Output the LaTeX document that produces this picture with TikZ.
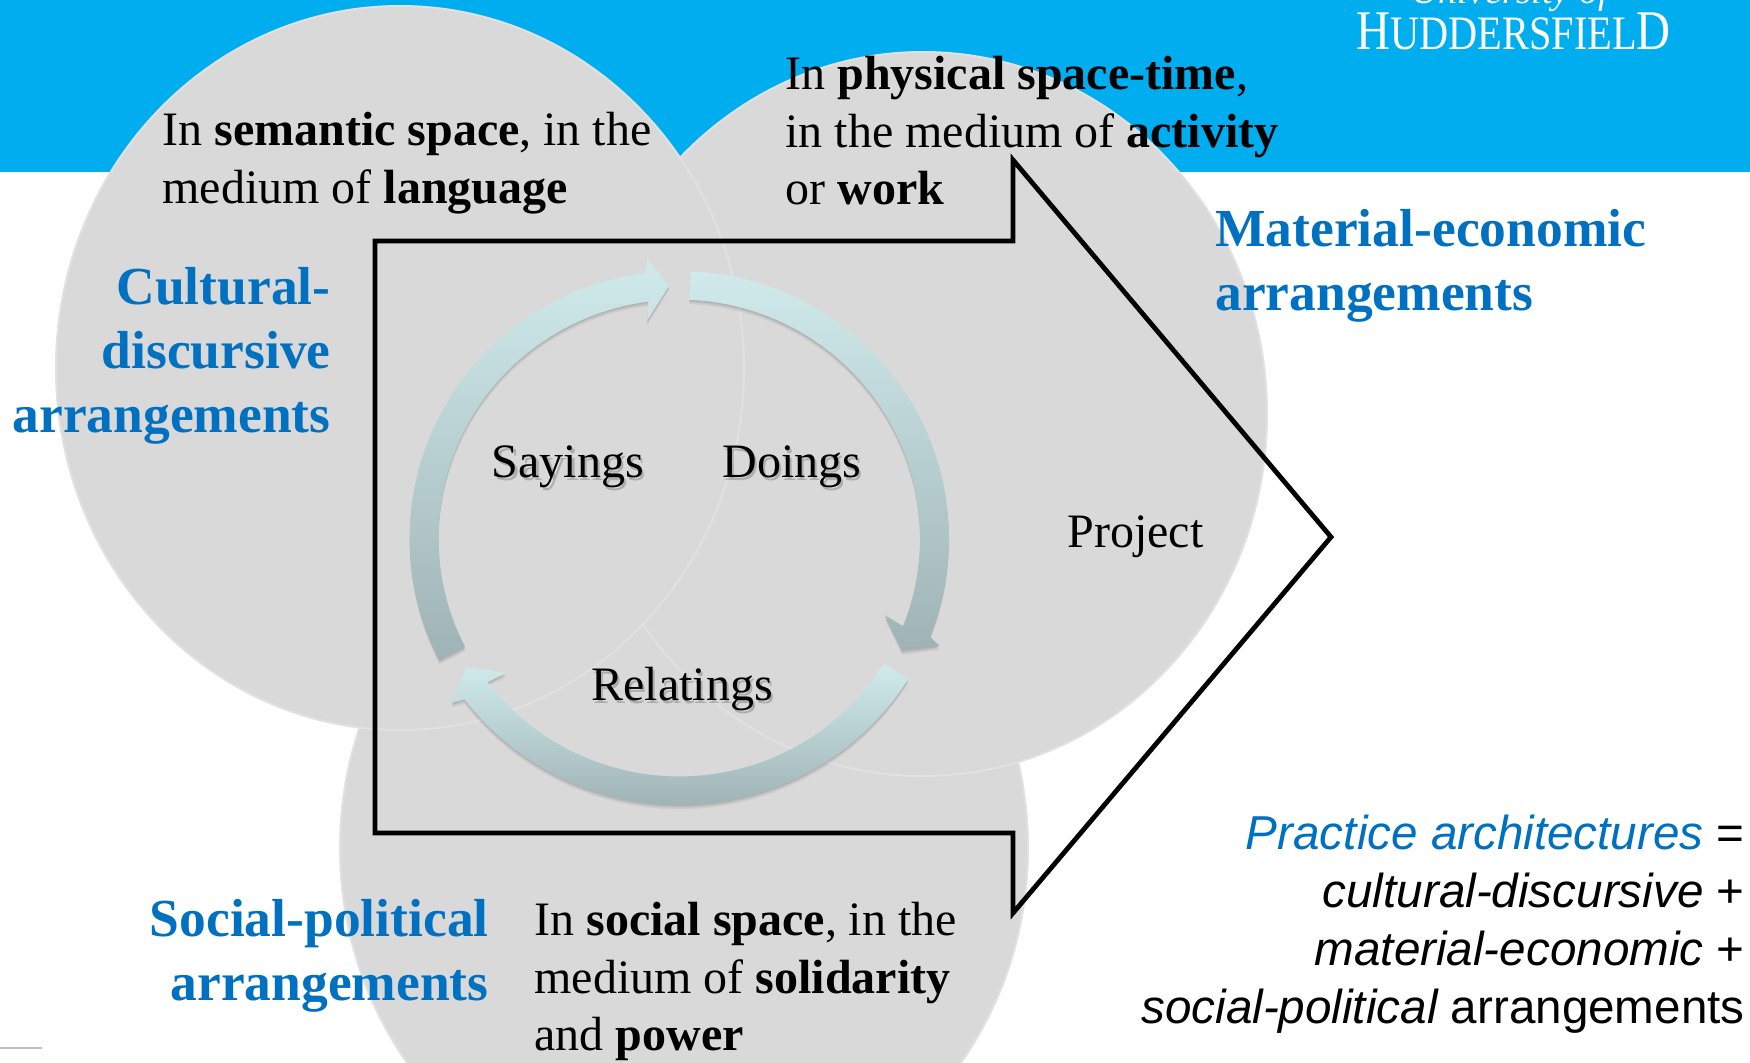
\documentclass[tikz,border=0pt]{standalone}
\usepackage{fontspec}
\setmainfont{Liberation Serif}
\setsansfont{Liberation Sans}
\definecolor{bandblue}{HTML}{00AEEF}
\definecolor{disc}{HTML}{D9D9D9}
\definecolor{discedge}{HTML}{E1E1E1}
\definecolor{headblue}{HTML}{0070C0}
\definecolor{ringtop}{HTML}{D0EAEC}
\definecolor{ringbot}{HTML}{9FB3B6}
\newcommand{\ringarrow}[1]{%
  \fill[black,opacity=.05,yshift=-2.2pt] #1;
  \fill[black,opacity=.06,yshift=-1.4pt] #1;
  \fill[black,opacity=.07,yshift=-.7pt] #1;
  \shade[top color=ringtop,bottom color=ringbot] #1;
}
\tikzset{
  discshape/.style={fill=disc,draw=discedge,line width=1pt},
  bodytext/.style={inner sep=0pt,anchor=base west,align=left,font=\fontsize{24}{28.7}\selectfont},
  headtext/.style={inner sep=0pt,align=left,text=headblue,font=\fontsize{26.75}{32}\selectfont\bfseries},
  cycletext/.style={inner sep=0pt,anchor=base west,font=\fontsize{24}{28}\selectfont},
  cycleshadow/.style={cycletext,text=black,text opacity=.2},
  sumtext/.style={inner sep=0pt,align=right,anchor=base east,font=\fontsize{23.8}{29}\selectfont\sffamily},
}
\begin{document}
\begin{tikzpicture}[x=0.5pt,y=-0.5pt]
\useasboundingbox (0,0) rectangle (1750,1062);
\clip (0,0) rectangle (1750,1062);
\fill[white] (0,0) rectangle (1750,1062);
\fill[bandblue] (0,0) rectangle (1750,172);
\draw[line width=.75pt,color=black!25] (0,1048) -- (42,1048);
% three discs
\path[discshape] (684,848) circle[x radius=172pt,y radius=181pt];
\path[discshape] (923,414) circle[x radius=172pt,y radius=181pt];
\path[discshape] (400,368) circle[x radius=172pt,y radius=181pt];
% large arrow
\draw[line width=2.4pt,miter limit=10] (375,241) -- (1013,241) -- (1013,160) -- (1331,537) -- (1013,913) -- (1013,833) -- (375,833) -- cycle;
% cycle of three arrows
\begin{scope}[shift={(679.3,538)},x=1pt,y=1pt,yscale=.99]
\ringarrow{(87.6:134.8) arc[start angle=87.6,end angle=-21.7,radius=134.8] -- (-22.7:141) -- (-27:125) -- (-20.8:110) -- (-21.7:120.4) arc[start angle=-21.7,end angle=87.6,radius=120.4] -- cycle}
\ringarrow{(-31.9:134.8) arc[start angle=-31.9,end angle=-142.8,radius=134.8] -- (-143.8:141) -- (-148.5:125) -- (-141.8:110) -- (-142.8:120.4) arc[start angle=-142.8,end angle=-31.9,radius=120.4] -- cycle}
\ringarrow{(207.2:134.8) arc[start angle=207.2,end angle=97.4,radius=134.8] -- (96.5:142) -- (92.3:127.5) -- (98.3:111) -- (97.4:120.4) arc[start angle=97.4,end angle=207.2,radius=120.4] -- cycle}
\end{scope}
% logo
\node[inner sep=0pt,anchor=base,text=white,font=\fontsize{19}{22}\selectfont\itshape] (univ) at (1510,3) {University of};
\node[inner sep=0pt,anchor=base west,text=white,font=\fontsize{24}{26}\selectfont,xscale=.84,transform shape] (hudd) at (1356,49) {{\fontsize{28}{26}\selectfont H}UDDERSFIEL{\fontsize{28}{26}\selectfont D}};
% explanatory texts
\node[bodytext] (semantic) at (162,203) {In \textbf{semantic space}, in the\\medium of \textbf{language}};
\node[bodytext] (physical) at (785,204.5) {In \textbf{physical space-time},\\in the medium of \textbf{activity}\\or \textbf{work}};
\node[bodytext] (social) at (534,1050.5) {In \textbf{social space}, in the\\medium of \textbf{solidarity}\\and \textbf{power}};
% arrangement headings
\node[headtext,align=right,anchor=base east] (cultural) at (331,432) {Cultural-\\discursive\\arrangements};
\node[headtext,anchor=base west] (material) at (1215,310) {Material-economic\\arrangements};
\node[headtext,align=right,anchor=base east] (socpol) at (489,1000) {Social-political\\arrangements};
% labels in the cycle
\node[cycleshadow] at (494,480) {Sayings};
\node[cycleshadow] at (724,480) {Doings};
\node[cycleshadow] at (593,703) {Relatings};
\node[cycletext] (sayings) at (491.5,477) {Sayings};
\node[cycletext] (doings) at (722,477) {Doings};
\node[cycletext] (relatings) at (591,700) {Relatings};
\node[cycletext] (project) at (1067,547) {Project};
% sum
\node[sumtext] (sum) at (1745,1023) {{\itshape\color{headblue}Practice architectures} =\\{\itshape cultural-discursive} +\\{\itshape material-economic} +\\{\itshape social-political} arrangements};
\end{tikzpicture}
\end{document}
